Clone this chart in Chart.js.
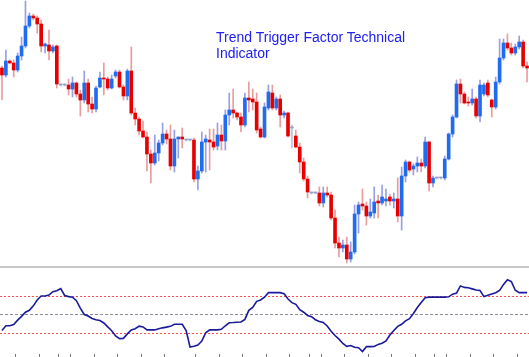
<!DOCTYPE html>
<html>
<head>
<meta charset="utf-8">
<script src="https://cdn.jsdelivr.net/npm/chart.js@4"></script>
<style>
  html, body { margin: 0; padding: 0; background: #fff; }
  #wrap { position: relative; width: 529px; height: 357px; overflow: hidden; }
  #price-box { position: absolute; left: 0; top: 0; width: 529px; height: 266px; }
  #sep { position: absolute; left: 0; top: 266px; width: 529px; height: 2px; background: #c8c8c8; }
  #ttf-box { position: absolute; left: 0; top: 268px; width: 529px; height: 89px; }
  #title {
    position: absolute; left: 216px; top: 29px;
    font: 14px/16px "Liberation Sans", Arial, sans-serif;
    color: #2020f0; white-space: nowrap;
  }
</style>
</head>
<body>
<div id="wrap">
  <div id="price-box"><canvas id="priceChart"></canvas></div>
  <div id="sep"></div>
  <div id="ttf-box"><canvas id="ttfChart"></canvas></div>
  <div id="title">Trend Trigger Factor Technical<br>Indicator</div>
</div>
<script>
// candles, oldest first (price units)
const opens = [
  232, 225, 239, 237, 230, 244, 254, 274, 284, 282,
  276, 254, 255, 249, 254, 215, 215, 215, 211, 217,
  206, 200, 217, 196, 191, 213, 222, 221, 212, 224,
  228, 213, 204, 229, 187, 181, 169, 163, 146, 137,
  147, 157, 166, 161, 134, 161, 163, 160, 160, 160,
  121, 129, 158, 160, 158, 154, 165, 159, 185, 190,
  187, 183, 175, 202, 201, 198, 171, 163, 192, 207,
  192, 201, 185, 187, 172, 164, 153, 138, 121, 107,
  107, 107, 97, 107, 105, 82, 57, 52, 55, 41,
  48, 86, 96, 94, 84, 87, 99, 97, 99, 103,
  99, 101, 84, 124, 138, 131, 134, 137, 134, 158,
  117, 122, 122, 122, 141, 166, 183, 216, 206, 198,
  197, 201, 184, 206, 217, 200, 193, 218, 242, 257,
  252, 247, 253, 258, 234
];
const closes = [
  225, 239, 237, 230, 244, 254, 274, 284, 282, 276,
  254, 256, 249, 253, 216, 215, 215, 211, 217, 206,
  200, 217, 196, 191, 212, 222, 221, 212, 221, 228,
  213, 204, 229, 187, 181, 169, 163, 146, 137, 147,
  157, 166, 161, 134, 161, 163, 161, 160, 160, 121,
  129, 158, 161, 158, 153, 165, 159, 185, 190, 187,
  183, 175, 202, 200, 198, 170, 163, 193, 208, 192,
  201, 185, 187, 164, 172, 153, 138, 121, 108, 107,
  107, 97, 107, 105, 82, 57, 52, 55, 41, 48,
  86, 95, 94, 84, 88, 98, 97, 103, 101, 99,
  101, 84, 124, 138, 130, 134, 137, 134, 158, 117,
  122, 122, 122, 141, 166, 183, 216, 206, 197, 197,
  201, 184, 215, 215, 205, 193, 218, 242, 257, 252,
  247, 253, 258, 234, 232
];
const highs = [
  234, 250, 240, 240, 247, 263, 299, 287, 286, 284,
  280, 257, 270, 255, 255, 216, 216, 221, 223, 218,
  210, 229, 221, 203, 214, 228, 237, 223, 225, 230,
  230, 215, 231, 253, 192, 183, 179, 168, 150, 165,
  160, 177, 170, 175, 170, 163, 172, 161, 161, 162,
  134, 168, 165, 171, 171, 177, 175, 190, 207, 211,
  188, 187, 207, 218, 211, 207, 173, 197, 215, 215,
  203, 205, 189, 188, 175, 170, 157, 142, 124, 108,
  108, 113, 113, 113, 108, 90, 63, 60, 63, 58,
  95, 98, 111, 98, 101, 113, 105, 115, 111, 106,
  107, 122, 133, 140, 139, 136, 143, 141, 163, 159,
  124, 123, 123, 144, 167, 185, 220, 221, 208, 203,
  211, 203, 220, 217, 220, 201, 223, 261, 261, 266,
  257, 256, 264, 260, 238
];
const lows = [
  200, 223, 236, 223, 228, 240, 252, 272, 280, 267,
  248, 247, 240, 247, 212, 214, 214, 205, 203, 203,
  184, 197, 188, 187, 188, 212, 205, 210, 211, 222,
  212, 200, 200, 185, 175, 165, 162, 129, 117, 135,
  139, 155, 156, 130, 128, 142, 152, 159, 159, 118,
  110, 127, 128, 130, 150, 150, 150, 150, 175, 182,
  180, 168, 173, 188, 190, 167, 162, 162, 190, 190,
  190, 173, 182, 163, 152, 152, 127, 119, 102, 106,
  106, 94, 93, 103, 80, 52, 43, 48, 37, 38,
  46, 67, 90, 75, 82, 82, 82, 95, 94, 95,
  92, 78, 70, 118, 128, 125, 128, 128, 132, 109,
  113, 121, 121, 120, 140, 163, 182, 197, 196, 194,
  195, 182, 178, 204, 203, 183, 191, 216, 240, 250,
  245, 245, 251, 232, 218
];

// trend trigger factor, one value per candle
const ttf = [
  -85, -60, -60, -53, -30, -10, 12, 22, 46, 77,
  98, 98, 103, 121, 126, 138, 101, 95, 92, 73,
  34, 0, -8, -21, -28, -32, -45, -66, -86, -114,
  -128, -127, -103, -82, -76, -62, -66, -82, -82, -82,
  -76, -71, -67, -63, -52, -52, -52, -86, -173, -169,
  -162, -141, -97, -82, -82, -82, -79, -60, -44, -43,
  -41, -40, -26, 22, 37, 70, 77, 92, 116, 116,
  116, 116, 110, 82, 63, 54, 25, 12, -5, -12,
  -28, -37, -42, -61, -89, -112, -131, -154, -169, -165,
  -174, -177, -197, -171, -171, -170, -159, -153, -141, -109,
  -85, -63, -52, -34, -22, 5, 37, 64, 89, 92,
  92, 92, 92, 92, 94, 108, 114, 152, 144, 142,
  136, 130, 127, 95, 102, 109, 116, 128, 160, 185,
  175, 129, 116, 116, 116
];
const levels = [100, 0, -100];

// candle indices where a new session starts (little ticks on the bottom)
const sessionBreaks = [4, 10, 15, 18, 24, 30, 36, 42, 50, 56, 62, 68, 74, 79, 82, 88, 94, 100, 106, 111, 114, 120, 126, 132];

const labels = opens.map((_, i) => i);

function bodyColor(i) {
  if (closes[i] > opens[i]) return "#1f6cf0";
  if (closes[i] < opens[i]) return "#e80000";
  return "#8ea2cc";
}

function wickColor(i) {
  if (closes[i] > opens[i]) return "rgba(70, 80, 210, 0.55)";
  if (closes[i] < opens[i]) return "rgba(215, 60, 60, 0.5)";
  return "rgba(120, 130, 170, 0.5)";
}

const priceChart = new Chart(document.getElementById("priceChart"), {
  type: "bar",
  data: {
    labels,
    datasets: [
      {
        label: "body",
        data: opens.map((o, i) => [o, closes[i]]),
        backgroundColor: labels.map(bodyColor),
        barThickness: 3,
        minBarLength: 1,
        grouped: false,
        borderWidth: 0,
      },
      {
        label: "wick",
        data: lows.map((l, i) => [l, highs[i]]),
        backgroundColor: labels.map(wickColor),
        barThickness: 1,
        grouped: false,
        borderWidth: 0,
      },
    ],
  },
  options: {
    responsive: true,
    maintainAspectRatio: false,
    animation: false,
    layout: { padding: 0 },
    plugins: { legend: { display: false }, tooltip: { enabled: false } },
    scales: {
      x: { display: false, offset: true },
      y: { display: false, min: 34, max: 300 },
    },
  },
});

const levelStyles = {
  "100": { color: "#ff5050", dash: [2, 2] },
  "0": { color: "#8a8a9a", dash: [3, 2] },
  "-100": { color: "#ff5050", dash: [2, 2] },
};

const levelLines = {
  id: "levelLines",
  beforeDatasetsDraw(chart) {
    const { ctx, chartArea, scales } = chart;
    ctx.save();
    ctx.lineWidth = 1;
    levels.forEach((lv) => {
      const style = levelStyles[String(lv)];
      const y = Math.round(scales.y.getPixelForValue(lv)) + 0.5;
      ctx.strokeStyle = style.color;
      ctx.setLineDash(style.dash);
      ctx.beginPath();
      ctx.moveTo(chartArea.left, y);
      ctx.lineTo(chartArea.right, y);
      ctx.stroke();
    });
    ctx.restore();
  },
};

const ttfChart = new Chart(document.getElementById("ttfChart"), {
  type: "line",
  data: {
    labels,
    datasets: [
      {
        label: "TTF",
        data: ttf,
        borderColor: "#1a1a9c",
        borderWidth: 1.6,
        pointRadius: 0,
        tension: 0,
      },
    ],
  },
  options: {
    responsive: true,
    maintainAspectRatio: false,
    animation: false,
    layout: { padding: 0 },
    plugins: { legend: { display: false }, tooltip: { enabled: false } },
    scales: {
      x: {
        type: "category",
        offset: true,
        border: { display: false },
        grid: {
          offset: true,
          drawOnChartArea: false,
          drawTicks: true,
          tickLength: 3,
          color: (c) => (sessionBreaks.includes(c.index) ? "#777" : "rgba(0,0,0,0)"),
        },
        ticks: { display: false, autoSkip: false },
      },
      y: { display: false, min: -210, max: 247 },
    },
  },
  plugins: [levelLines],
});
</script>
</body>
</html>
